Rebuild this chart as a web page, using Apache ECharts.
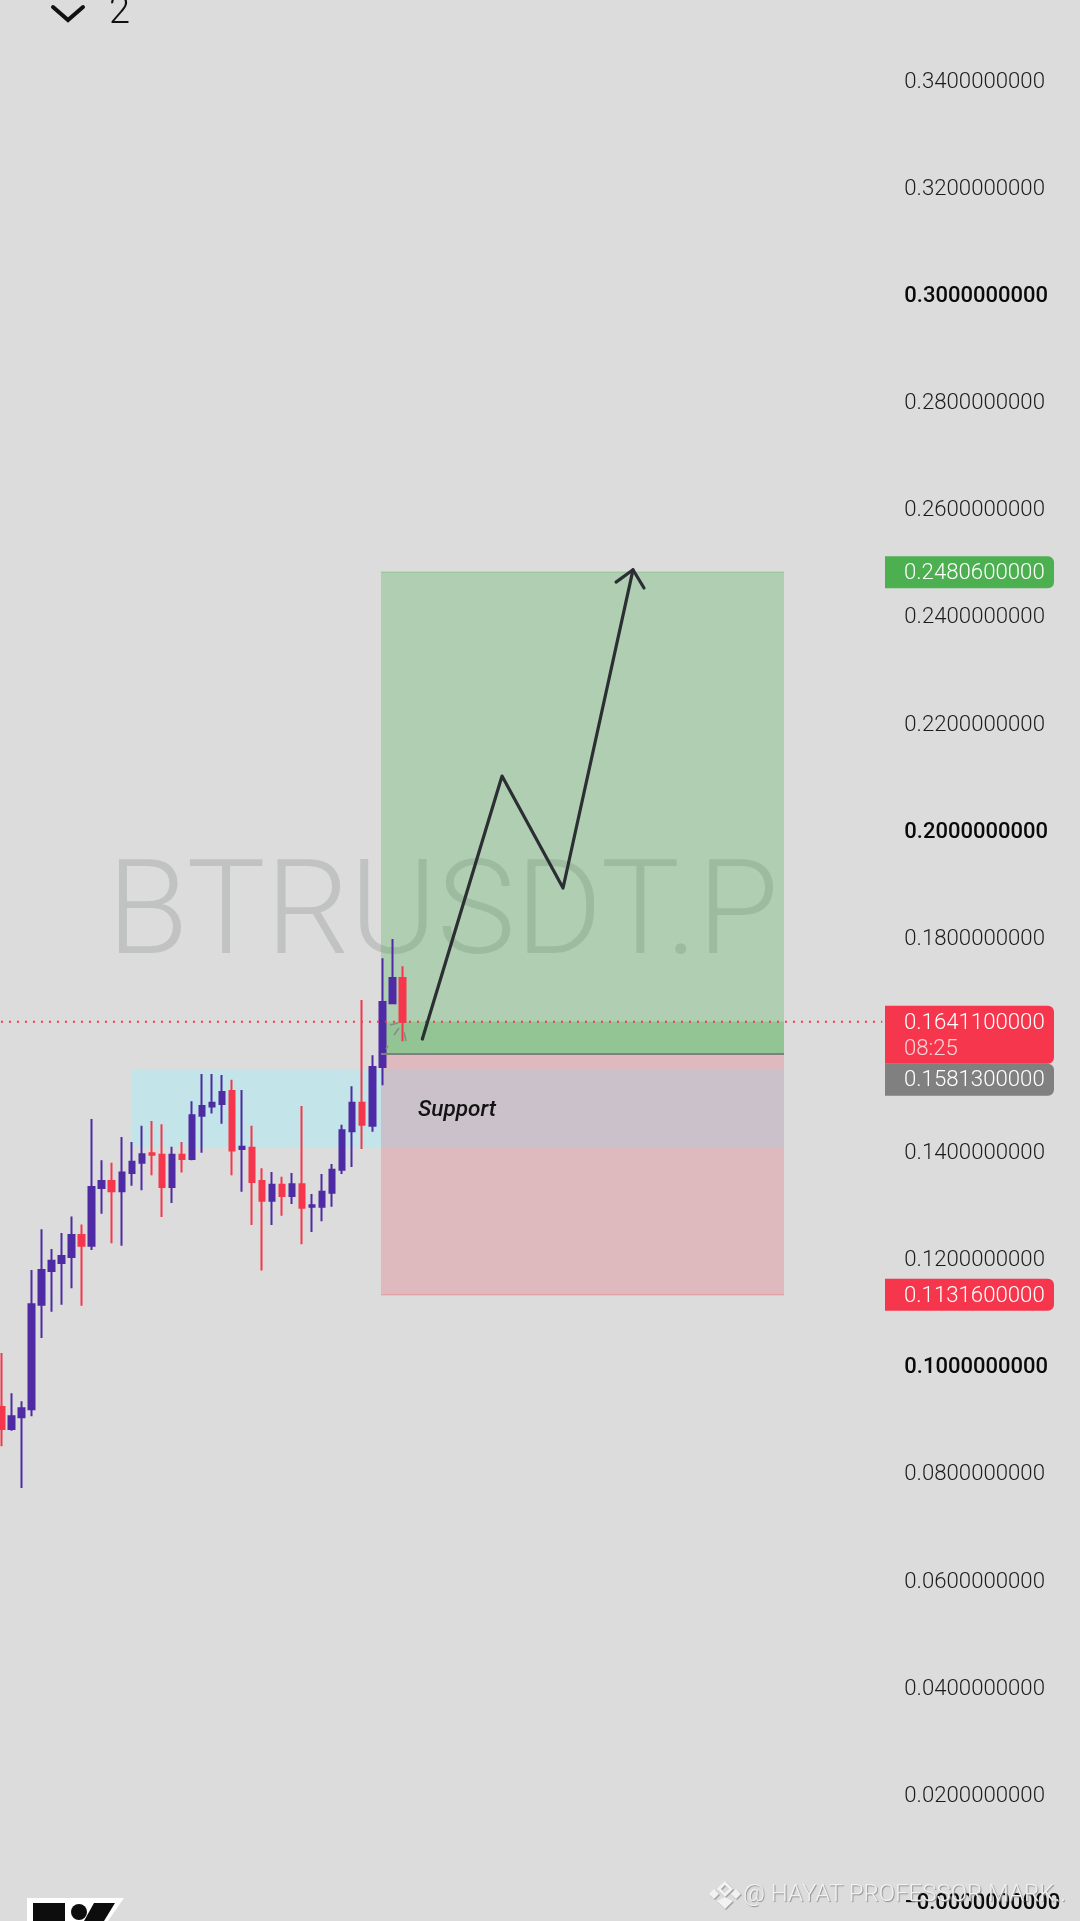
<!DOCTYPE html>
<html>
<head>
<meta charset="utf-8">
<style>html,body{margin:0;padding:0;background:#dcdcdc}#c{width:1080px;height:1921px}</style>
<script src="https://cdn.jsdelivr.net/npm/echarts@6/dist/echarts.min.js"></script>
</head>
<body>
<div id="c"></div>
<script>
// Candles, left to right
const opens  = [.0922,.0881,.0903,.0918,.1113,.1176,.1191,.1202,.1243,.1223,.1331,.1344,.1325,.1359,.1378,.1396,.1393,.1333,.1393,.1385,.1466,.1483,.1488,.1512,.1404,.1406,.1344,.1307,.1337,.1316,.1338,.1296,.1296,.1322,.1365,.1437,.1490,.1447,.1557,.1676,.1723];
const closes = [.0881,.0905,.0920,.1114,.1178,.1195,.1204,.1243,.1223,.1333,.1344,.1325,.1360,.1380,.1394,.1393,.1333,.1393,.1385,.1467,.1484,.1490,.1510,.1401,.1408,.1342,.1307,.1337,.1316,.1338,.1294,.1299,.1324,.1365,.1439,.1490,.1449,.1557,.1678,.1723,.1641];
const lows   = [.0849,.0878,.0771,.0905,.1051,.1100,.1113,.1144,.1111,.1215,.1283,.1228,.1223,.1335,.1327,.1355,.1277,.1303,.1360,.1383,.1397,.1470,.1451,.1355,.1324,.1262,.1177,.1262,.1279,.1301,.1226,.1249,.1269,.1296,.1357,.1370,.1404,.1436,.1523,.1676,.1605];
const highs  = [.1023,.0948,.0933,.1178,.1254,.1217,.1247,.1278,.1263,.1460,.1383,.1378,.1426,.1417,.1447,.1456,.1450,.1408,.1417,.1493,.1544,.1544,.1542,.1533,.1514,.1447,.1368,.1361,.1352,.1359,.1484,.1320,.1357,.1376,.1449,.1521,.1682,.1579,.1760,.1796,.1745];
const slotCount = 89;
const slots = Array.from({length: slotCount}, (_, i) => String(i));

// Price levels
const takeProfit = 0.24806, entry = 0.15813, stopLoss = 0.11316, lastPrice = 0.16411;
const supportTop = 0.15512, supportBottom = 0.14056;
const takeProfitLabel = '0.2480600000', entryLabel = '0.1581300000', stopLossLabel = '0.1131600000', lastPriceLabel = '0.1641100000', countdown = '08:25';

// Drawings, horizontal unit = candle slot
const zoneStart = 37.87, zoneEnd = 78.09, supportStart = 13.02, priceLineEnd = 87.9;
const arrowSlots  = [42.0, 49.95, 56.04, 63.02];
const arrowPrices = [.1609, .2100, .1891, .2485];
const headSlots   = [61.33, 63.02, 64.12];
const headPrices  = [.2462, .2485, .2451];

const fontFam = 'Roboto';
const PURPLE = '#4e2ba4', RED = '#f6364c';

function hline(price, x0, x1, lineStyle, z) {
  return {type:'line', xAxisIndex:1, yAxisIndex:0, symbol:'none', silent:true, z: z || 3,
          data:[[x0,price],[x1,price]], lineStyle};
}

const chart = echarts.init(document.getElementById('c'), null, {width:1080, height:1921});
const option = {
  animation:false,
  backgroundColor:'#dcdcdc',
  grid:{left:-3.5, top:-27.52, width:891.8, height:2035.66, containLabel:false, outerBoundsMode:'none'},
  xAxis:[
    {type:'category', data:slots, boundaryGap:true, show:false},
    {type:'value', min:-0.5, max:88.5, show:false}
  ],
  yAxis:[{
    type:'value', position:'right', min:-0.02, max:0.36, interval:0.02, scale:false,
    axisLine:{show:false}, axisTick:{show:false}, splitLine:{show:false},
    axisLabel:{
      margin:16, align:'left', showMinLabel:true, showMaxLabel:true, padding:[5,0,0,0],
      formatter(v){
        const major = Math.abs(v*10 - Math.round(v*10)) < 1e-6;
        const t = Math.abs(v) < 1e-9 ? '\u22120.0000000000' : v.toFixed(10);
        return major ? '{b|'+t+'}' : '{n|'+t+'}';
      },
      rich:{
        n:{fontFamily:fontFam, fontSize:22.2, fontWeight:300, color:'#1c1c1e'},
        b:{fontFamily:fontFam, fontSize:22, fontWeight:500, color:'#0a0a0a'}
      }
    }
  }],
  series:[
    {
      type:'candlestick', name:'BTRUSDT.P', xAxisIndex:0, yAxisIndex:0, barWidth:6,
      data: opens.map((o,i)=>[o, closes[i], lows[i], highs[i]]),
      itemStyle:{color:PURPLE, color0:RED, borderColor:PURPLE, borderColor0:RED, borderWidth:2}
    },
    {
      type:'line', name:'zones', xAxisIndex:1, yAxisIndex:0, symbol:'none', silent:true,
      data:[[zoneStart,entry],[zoneStart,entry]], lineStyle:{opacity:0},
      markArea:{
        silent:true,
        data:[
          [{coord:[supportStart,supportTop], itemStyle:{color:'#c3e4e9'}},{coord:[zoneEnd,supportBottom]}],
          [{coord:[zoneStart,takeProfit], itemStyle:{color:'rgba(76,175,80,0.3)'}},{coord:[zoneEnd,entry]}],
          [{coord:[zoneStart,lastPrice], itemStyle:{color:'rgba(76,175,80,0.3)'}},{coord:[zoneEnd,entry]}],
          [{coord:[zoneStart,entry], itemStyle:{color:'rgba(236,40,70,0.19)'}},{coord:[zoneEnd,stopLoss]}]
        ]
      }
    },
    hline(takeProfit, zoneStart, zoneEnd, {color:'rgba(76,175,80,0.45)', width:1}),
    hline(stopLoss, zoneStart, zoneEnd, {color:'rgba(242,54,69,0.35)', width:1}),
    hline(entry, zoneStart, zoneEnd, {color:'#808080', width:2}),
    hline(lastPrice, -0.5, priceLineEnd, {color:'#ea3f55', width:2, type:[2,6], dashOffset:3.5}, 4),
    {type:'line', name:'arrow', xAxisIndex:1, yAxisIndex:0, symbol:'none', silent:true, z:5,
     data:arrowSlots.map((x,i)=>[x,arrowPrices[i]]),
     lineStyle:{color:'#2b2f33', width:3.2, cap:'round', join:'round'}},
    {type:'line', name:'arrow head', xAxisIndex:1, yAxisIndex:0, symbol:'none', silent:true, z:5,
     data:headSlots.map((x,i)=>[x,headPrices[i]]),
     lineStyle:{color:'#2b2f33', width:3.2, cap:'round', join:'round'}}
  ]
};
chart.setOption(option);

const py = p => chart.convertToPixel({yAxisIndex:0}, p);
const BX = 885, BW = 169, TX = 904;
function badge(top, h, color, r) {
  return {type:'rect', z:20, shape:{x:BX, y:top, width:BW, height:h, r}, style:{fill:color}};
}
function tag(y, text, fill) {
  return {type:'text', z:21, style:{x:TX, y:y+1.5, text, fill:fill||'#fff', font:'300 22.2px '+fontFam, textAlign:'left', textVerticalAlign:'middle'}};
}
const redTop = py(lastPrice) - 16, redH = 58;
function seg(x1,y1,x2,y2){
  return {type:'line', z:10, shape:{x1,y1,x2,y2}, style:{stroke:'#8a8a8a', lineWidth:1.6}};
}
chart.setOption({graphic:{elements:[
  {type:'text', z:0, zlevel:0, style:{x:443, y:920, text:'BTRUSDT.P', fill:'#c1c2c2', font:'300 132.5px '+fontFam, textAlign:'center', textVerticalAlign:'middle'}},
  seg(390,1025,398,1023), seg(394,1035,399,1028), seg(406,1041,404,1032), seg(386,1049,388,1046),
  {type:'text', z:6, style:{x:418, y:1110, text:'Support', fill:'#131313', font:'italic 500 22.6px '+fontFam, textAlign:'left', textVerticalAlign:'middle'}},
  badge(py(takeProfit)-16, 32, '#4caf50', [0,6,6,0]),
  tag(py(takeProfit), takeProfitLabel),
  badge(redTop, redH, RED, [0,6,6,0]),
  badge(redTop+redH, 32, '#808080', [0,6,6,0]),
  tag(py(lastPrice), lastPriceLabel),
  tag(py(lastPrice)+26, countdown, '#fbd3d8'),
  tag(redTop+redH+15.5, entryLabel),
  badge(py(stopLoss)-16, 32, RED, [0,6,6,0]),
  tag(py(stopLoss), stopLossLabel),
  // top-left collapse control
  {type:'polyline', z:20, shape:{points:[[53,7],[68,20],[83,7]]}, style:{stroke:'#111', lineWidth:4, fill:null, lineCap:'round', lineJoin:'miter'}},
  {type:'text', z:20, style:{x:109, y:13, text:'2', fill:'#111', font:'300 38px '+fontFam, textAlign:'left', textVerticalAlign:'middle'}},
  // bottom-left logo
  {type:'polygon', z:20, shape:{points:[[27,1898],[124,1898],[108,1921],[27,1921]]}, style:{fill:'#fff'}},
  {type:'rect', z:21, shape:{x:33,y:1903,width:32,height:18}, style:{fill:'#0d0d0d'}},
  {type:'circle', z:21, shape:{cx:79,cy:1912,r:8}, style:{fill:'#0d0d0d'}},
  {type:'polygon', z:21, shape:{points:[[94,1903],[115,1903],[104,1921],[84,1921]]}, style:{fill:'#0d0d0d'}},
  // image watermark
  {type:'polygon', z:20, shape:{points:[[725,1883],[731,1889],[725,1895],[719,1889]]}, style:{fill:'none', stroke:'#f2f2f2', lineWidth:3, shadowColor:'#999', shadowBlur:1, shadowOffsetX:1, shadowOffsetY:1}},
  {type:'polygon', z:20, shape:{points:[[714,1889],[719,1894],[714,1899],[709,1894]]}, style:{fill:'#f2f2f2', shadowColor:'#999', shadowBlur:1, shadowOffsetX:1, shadowOffsetY:1}},
  {type:'polygon', z:20, shape:{points:[[736,1889],[741,1894],[736,1899],[731,1894]]}, style:{fill:'#f2f2f2', shadowColor:'#999', shadowBlur:1, shadowOffsetX:1, shadowOffsetY:1}},
  {type:'polygon', z:20, shape:{points:[[725,1897],[733,1901],[725,1909],[717,1901]]}, style:{fill:'#f2f2f2', shadowColor:'#999', shadowBlur:1, shadowOffsetX:1, shadowOffsetY:1}},
  {type:'text', z:20, style:{x:743, y:1895, text:'@ HAYAT PROFESSOR MARK..', fill:'#f1f1f1', font:'300 24px '+fontFam, textAlign:'left', textVerticalAlign:'middle', textShadowColor:'#8f8f8f', textShadowBlur:1, textShadowOffsetX:1, textShadowOffsetY:1}}
]}});
</script>
</body>
</html>
